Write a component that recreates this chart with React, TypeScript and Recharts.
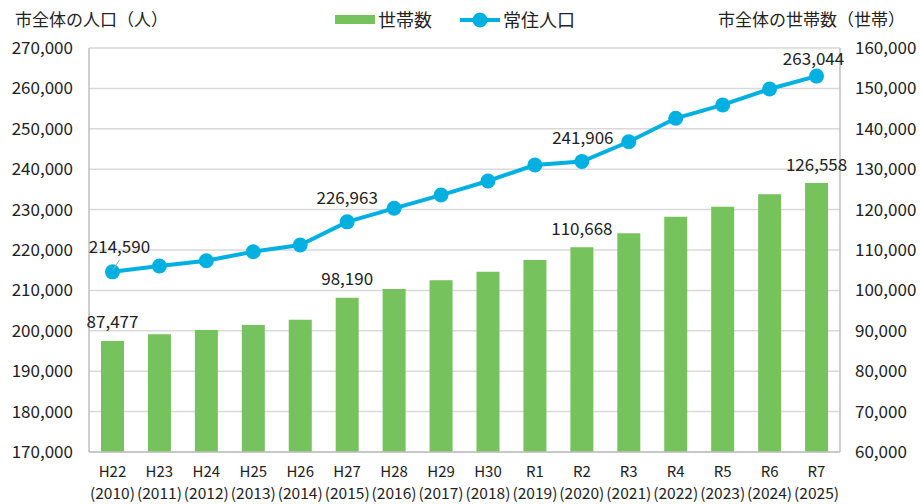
import React from 'react';
import { ComposedChart, Bar, Line, XAxis, YAxis, CartesianGrid, Legend, LabelList } from 'recharts';

const eras = ['H22', 'H23', 'H24', 'H25', 'H26', 'H27', 'H28', 'H29', 'H30', 'R1', 'R2', 'R3', 'R4', 'R5', 'R6', 'R7'];
const years = ['2010', '2011', '2012', '2013', '2014', '2015', '2016', '2017', '2018', '2019', '2020', '2021', '2022', '2023', '2024', '2025'];
const households = [87477, 89130, 90200, 91440, 92750, 98190, 100350, 102500, 104600, 107520, 110668, 114130, 118240, 120720, 123780, 126558];
const population = [214590, 216040, 217350, 219580, 221240, 226963, 230320, 233600, 237080, 241040, 241906, 246800, 252600, 255900, 259850, 263044];
const leftTicks = [170000, 180000, 190000, 200000, 210000, 220000, 230000, 240000, 250000, 260000, 270000];
const rightTicks = [60000, 70000, 80000, 90000, 100000, 110000, 120000, 130000, 140000, 150000, 160000];
const labeledIdx = [0, 5, 10, 15];

const data = eras.map((era, i) => ({ era, year: years[i], households: households[i], population: population[i] }));

const FONT = "'Noto Sans CJK JP', 'Noto Sans', sans-serif";
const TEXT = '#222222';
const GREEN = '#76c25d';
const BLUE = '#00b0e0';
const fmt = (v: number) => v.toLocaleString('en-US');

const XTick = (props: any) => {
  const { x, y, index } = props;
  return (
    <g>
      <text x={x} y={y + 23} textAnchor="middle" fill={TEXT} fontSize={15} fontFamily={FONT}>{eras[index]}</text>
      <text x={x} y={y + 45} textAnchor="middle" fill={TEXT} fontSize={15} fontFamily={FONT} textLength={45} lengthAdjust="spacingAndGlyphs">({years[index]})</text>
    </g>
  );
};

const lineOffsets: Record<number, [number, number]> = { 0: [7, -26], 5: [0, -25], 10: [1, -25], 15: [-3, -19] };

const LineLabel = (props: any) => {
  const { x, y, value, index } = props;
  if (!labeledIdx.includes(index)) return null;
  const [dx, dy] = lineOffsets[index] || [0, -25];
  return (
    <g>
      {index === 0 && <line x1={x + 0.5} y1={y - 2} x2={x + 7} y2={y - 12} stroke="#a6a6a6" strokeWidth={1} />}
      <text x={x + dx} y={y + dy} textAnchor="middle" dominantBaseline="central" fill={TEXT} fontSize={17} fontFamily={FONT}>{fmt(value)}</text>
    </g>
  );
};

const BarLabel = (props: any) => {
  const { x, y, width, value, index } = props;
  if (!labeledIdx.includes(index)) return null;
  return (
    <text x={x + width / 2} y={y - 20} textAnchor="middle" dominantBaseline="central" fill={TEXT} fontSize={17} fontFamily={FONT}>{fmt(value)}</text>
  );
};

const LegendContent = () => (
  <div style={{ position: 'relative', width: 921, height: 38, fontFamily: FONT, color: TEXT }}>
    <span style={{ position: 'absolute', left: 15, top: 6, fontSize: 17, lineHeight: '26px', whiteSpace: 'nowrap' }}>市全体の人口（人）</span>
    <span style={{ position: 'absolute', left: 335, top: 15, width: 40, height: 9, background: GREEN }} />
    <span style={{ position: 'absolute', left: 378, top: 6, fontSize: 18, lineHeight: '26px', whiteSpace: 'nowrap' }}>世帯数</span>
    <svg style={{ position: 'absolute', left: 458, top: 8 }} width={44} height={24}>
      <line x1={2} y1={12} x2={42} y2={12} stroke={BLUE} strokeWidth={4} />
      <circle cx={22} cy={12} r={7.5} fill={BLUE} />
    </svg>
    <span style={{ position: 'absolute', left: 503, top: 6, fontSize: 18, lineHeight: '26px', whiteSpace: 'nowrap' }}>常住人口</span>
    <span style={{ position: 'absolute', left: 718, top: 6, fontSize: 17, lineHeight: '26px', whiteSpace: 'nowrap' }}>市全体の世帯数（世帯）</span>
  </div>
);

export default function App() {
  return (
    <div style={{ position: 'absolute', left: 0, top: 0, width: 921, height: 504, background: '#fff' }}>
      <ComposedChart width={921} height={504} data={data} margin={{ top: 10, right: 0, bottom: 0, left: 0 }} style={{ fontFamily: FONT }}>
        <Legend verticalAlign="top" align="left" content={<LegendContent />} wrapperStyle={{ position: 'absolute', left: 0, top: 0, width: 921, height: 38 }} />
        <CartesianGrid yAxisId="left" vertical={false} stroke="#d9d9d9" strokeWidth={1.5} />
        <XAxis dataKey="era" tick={<XTick />} tickLine={false} axisLine={{ stroke: '#bfbfbf', strokeWidth: 1.5 }} height={52} interval={0} tickSize={0} />
        <YAxis yAxisId="left" orientation="left" width={89} domain={[170000, 270000]} ticks={leftTicks} tickFormatter={fmt} tickLine={false} tickSize={0} tickMargin={16} axisLine={{ stroke: '#bfbfbf', strokeWidth: 1.5 }} tick={{ fill: TEXT, fontSize: 17, fontFamily: FONT }} interval={0} allowDataOverflow />
        <YAxis yAxisId="right" orientation="right" width={81} domain={[60000, 160000]} ticks={rightTicks} tickFormatter={fmt} tickLine={false} tickSize={0} tickMargin={15} axisLine={{ stroke: '#bfbfbf', strokeWidth: 1.5 }} tick={{ fill: TEXT, fontSize: 17, fontFamily: FONT, textAnchor: 'start' }} interval={0} allowDataOverflow />
        <Bar yAxisId="right" dataKey="households" name="世帯数" fill={GREEN} barSize={23} isAnimationActive={false}>
          <LabelList dataKey="households" content={<BarLabel />} />
        </Bar>
        <Line yAxisId="left" dataKey="population" name="常住人口" stroke={BLUE} strokeWidth={4} dot={{ r: 7.5, fill: BLUE, stroke: BLUE, strokeWidth: 0 }} activeDot={false} isAnimationActive={false}>
          <LabelList dataKey="population" content={<LineLabel />} />
        </Line>
      </ComposedChart>
    </div>
  );
}
